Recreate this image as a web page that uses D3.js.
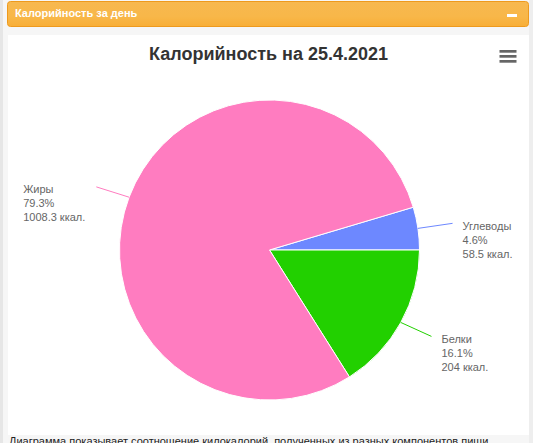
<!DOCTYPE html>
<html lang="ru">
<head>
    <meta charset="UTF-8">
    <title>Калорийность за день</title>
    <script src="https://d3js.org/d3.v7.min.js"></script>
    <style>
        html, body { margin: 0; padding: 0; overflow: hidden; background: #f6f6f6; }
        svg { display: block; font-family: "Liberation Sans", Arial, sans-serif; }
    </style>
</head>
<body>
    <div id="chart"></div>
    <script>
        // data
        const categories = ["Углеводы", "Белки", "Жиры"];
        const kcal = [58.5, 204, 1008.3];
        const percents = ["4.6%", "16.1%", "79.3%"];
        const colors = ["#6d88ff", "#22d000", "#ff7cc0"];

        const width = 533;
        const height = 443;
        const cx = 269.5, cy = 250, radius = 150;
        const connectorRadius = 185;
        // small vertical shift of each connector end, same order as categories
        const connectorNudge = [0, -3, 2];

        const svg = d3.select("#chart").append("svg")
            .attr("width", width)
            .attr("height", height);

        const defs = svg.append("defs");
        const grad = defs.append("linearGradient")
            .attr("id", "headerGrad")
            .attr("x1", 0).attr("y1", 0).attr("x2", 0).attr("y2", 1);
        grad.append("stop").attr("offset", "0%").attr("stop-color", "#f7b850");
        grad.append("stop").attr("offset", "60%").attr("stop-color", "#f8b749");
        grad.append("stop").attr("offset", "100%").attr("stop-color", "#f8ae37");

        // page gutters
        svg.append("rect").attr("x", 0).attr("y", 0).attr("width", 3).attr("height", height).attr("fill", "#e6e6e6");
        svg.append("rect").attr("x", 529).attr("y", 0).attr("width", 4).attr("height", height).attr("fill", "#eeeeee");

        // header bar
        svg.append("rect")
            .attr("x", 7.5).attr("y", 1.5)
            .attr("width", 521).attr("height", 25)
            .attr("rx", 3)
            .attr("fill", "url(#headerGrad)")
            .attr("stroke", "#ee9a1e");

        svg.append("text")
            .attr("x", 15).attr("y", 17)
            .attr("font-size", 11)
            .attr("font-weight", "bold")
            .attr("fill", "#fff")
            .text("Калорийность за день");

        svg.append("rect")
            .attr("x", 507).attr("y", 14)
            .attr("width", 10).attr("height", 3)
            .attr("fill", "#fff");

        // chart panel
        svg.append("rect")
            .attr("x", 8).attr("y", 35)
            .attr("width", 521).attr("height", 400)
            .attr("fill", "#fff");

        svg.append("text")
            .attr("x", 268.5).attr("y", 60)
            .attr("text-anchor", "middle")
            .attr("font-size", 18)
            .attr("font-weight", "bold")
            .attr("fill", "#333")
            .text("Калорийность на 25.4.2021");

        // menu icon
        svg.append("g").selectAll("rect")
            .data(["top", "middle", "bottom"])
            .enter()
            .append("rect")
            .attr("x", 499.5)
            .attr("y", (d, i) => 50 + i * 5)
            .attr("width", 17).attr("height", 2.7)
            .attr("fill", "#666");

        // pie
        const tableData = categories.map((name, i) => ({
            name: name,
            value: kcal[i],
            percent: percents[i],
            color: colors[i],
            nudge: connectorNudge[i]
        }));

        // blue slice ends exactly at 3 o'clock
        const startAngle = Math.PI / 2 - 2 * Math.PI * kcal[0] / d3.sum(kcal);
        const pie = d3.pie()
            .sort(null)
            .value(d => d.value)
            .startAngle(startAngle)
            .endAngle(startAngle + 2 * Math.PI);

        const arc = d3.arc().innerRadius(0).outerRadius(radius);
        const edgeArc = d3.arc().innerRadius(radius).outerRadius(radius);
        const connectorArc = d3.arc().innerRadius(connectorRadius).outerRadius(connectorRadius);

        function connectorEnd(d) {
            const p = connectorArc.centroid(d);
            return [p[0], p[1] + d.data.nudge];
        }

        const g = svg.append("g").attr("transform", `translate(${cx},${cy})`);
        const slices = g.selectAll("g.slice")
            .data(pie(tableData))
            .enter()
            .append("g")
            .attr("class", "slice");

        slices.append("path")
            .attr("d", arc)
            .attr("fill", d => d.data.color)
            .attr("stroke", "#fff")
            .attr("stroke-width", 1)
            .attr("stroke-linejoin", "round");

        // connectors
        slices.append("path")
            .attr("d", d => d3.line()([edgeArc.centroid(d), connectorEnd(d)]))
            .attr("fill", "none")
            .attr("stroke", d => d.data.color)
            .attr("stroke-width", 1);

        // labels
        const labels = slices.append("text")
            .attr("font-size", 11)
            .attr("fill", "#666");

        labels.each(function (d) {
            const t = d3.select(this);
            [d.data.name, d.data.percent, d.data.value + " ккал."].forEach((line, i) => {
                t.append("tspan").attr("x", 0).attr("y", 14 * i).text(line);
            });
            const p = connectorEnd(d);
            const w = this.getBBox().width;
            const tx = p[0] > 0 ? p[0] + 10 : p[0] - 11 - w;
            t.attr("transform", `translate(${tx},${p[1] + 6.5})`);
        });

        // note under the chart, cut by the window
        svg.append("text")
            .attr("x", 9).attr("y", 445)
            .attr("font-size", 11)
            .attr("fill", "#222")
            .text("Диаграмма показывает соотношение килокалорий, полученных из разных компонентов пищи");
    </script>
</body>
</html>
